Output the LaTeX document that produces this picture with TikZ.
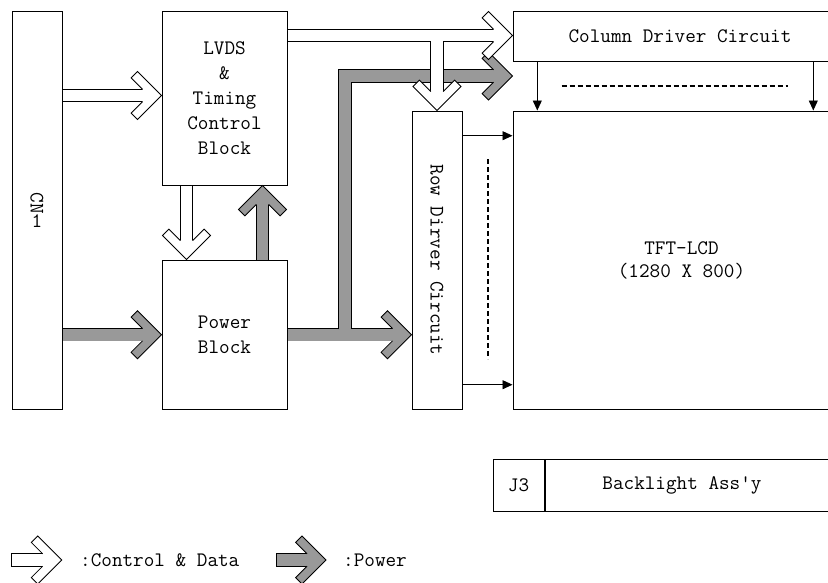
\documentclass[tikz,border=0pt]{standalone}
\usepackage{fontspec}
\usepackage{graphicx}
\usetikzlibrary{calc,arrows.meta}
\definecolor{pwrgray}{RGB}{153,153,153}
\tikzset{
 blk/.style = {rectangle, draw, line width=1pt, inner sep=0pt, align=center},
 datashaft/.style = {draw, line width=0.8pt, double=white, double distance=11.6pt},
 pwrshaft/.style = {draw, line width=0.8pt, double=pwrgray, double distance=11.6pt},
 dhead/.style = {draw, fill=white, line width=0.8pt},
 phead/.style = {draw, fill=pwrgray, line width=0.8pt},
 sig/.style = {-{Triangle[length=10pt,width=9pt]}, line width=0.9pt},
 dashline/.style = {line width=2pt, dash pattern=on 5pt off 3pt},
 chevron/.pic = {
   \path[pic actions] (-19,-6.2) -- (-30.4,-17.6) -- (-24,-24) -- (0,0)
     -- (-24,24) -- (-30.4,17.6) -- (-19,6.2);
 }
}

\begin{document}
\begin{tikzpicture}[x=1pt, y=-1pt, font=\fontsize{20.6}{25}\selectfont\ttfamily]
  \useasboundingbox (0,0) rectangle (828,582);

  % Blocks
  \node[blk, minimum width=50pt, minimum height=398pt] (cn1) at (37,210)
  {\rotatebox{-90}{CN}\\1};
  \node[blk, minimum width=125pt, minimum height=174pt] (lvds) at (224.5,98)
  {LVDS\\\&\\Timing\\Control\\Block};
  \node[blk, minimum width=125pt, minimum height=149pt] (pwr) at (224.5,334.5)
  {Power\\Block};
  \node[blk, minimum width=50pt, minimum height=298pt] (row) at (437,260)
  {\rotatebox{-90}{Row Dirver Circuit}};
  \node[blk, minimum width=334pt, minimum height=50pt] (col) at (680,36)
  {Column Driver Circuit};
  \node[blk, minimum width=337pt, minimum height=298pt] (lcd) at (681.5,260)
  {TFT-LCD\\[-2pt](1280 X 800)};

  % Backlight
  \node[blk, minimum width=51pt, minimum height=52pt] (j3) at (518.5,485) {J3};
  \node[blk, anchor=west, minimum width=306pt, minimum height=52pt] (bl) at (j3.east) {};
  \node (bltxt) at (682,485) {Backlight Ass'y};

  % Levels of the wide arrows
  \coordinate (cnlvl) at (0,95.5);
  \coordinate (dlvl) at (0,35.5);
  \coordinate (plvl) at (0,334.7);
  \coordinate (upx) at (262.5,0);
  \coordinate (dnx) at (186.5,0);
  \coordinate (brx) at (345,76);

  % Power
  \draw[pwrshaft] (cn1.east |- plvl) -- ($(pwr.west |- plvl)+(-18.5,0)$);
  \pic[phead] at (pwr.west |- plvl) {chevron};
  \draw[pwrshaft] (pwr.east |- plvl) -- ($(row.west |- plvl)+(-18.5,0)$);
  \pic[phead] at (row.west |- plvl) {chevron};
  \draw[pwrshaft] (pwr.north -| upx) -- ($(lvds.south -| upx)+(0,18.5)$);
  \pic[phead, rotate=90] at (lvds.south -| upx) {chevron};
  \draw[pwrshaft] ($(brx |- plvl)+(0,-5.7)$) |- ($(col.west |- brx)+(-18.5,0)$);
  \pic[phead] at (col.west |- brx) {chevron};

  % Control & Data
  \draw[datashaft] (cn1.east |- cnlvl) -- ($(lvds.west |- cnlvl)+(-18.5,0)$);
  \pic[dhead] at (lvds.west |- cnlvl) {chevron};
  \draw[datashaft] (lvds.south -| dnx) -- ($(pwr.north -| dnx)+(0,-18.5)$);
  \pic[dhead, rotate=-90] at (pwr.north -| dnx) {chevron};
  \draw[datashaft] (lvds.east |- dlvl) -- ($(col.west |- dlvl)+(-18.5,0)$);
  \pic[dhead] at (col.west |- dlvl) {chevron};
  \draw[datashaft] ($(row.north |- dlvl)+(0,5.9)$) -- ($(row.north)+(0,-18.5)$);
  \pic[dhead, rotate=-90] at (row.north) {chevron};

  % Row and column lines
  \coordinate (r1) at (0,135.7);
  \coordinate (r2) at (0,384.7);
  \coordinate (c1) at (537.3,0);
  \coordinate (c2) at (813.3,0);
  \draw[sig] (row.east |- r1) -- (lcd.west |- r1);
  \draw[sig] (row.east |- r2) -- (lcd.west |- r2);
  \draw[sig] (col.south -| c1) -- (lcd.north -| c1);
  \draw[sig] (col.south -| c2) -- (lcd.north -| c2);
  \draw[dashline] (561.7,85.7) -- (788.3,85.7);
  \draw[dashline] (487.7,159.3) -- (487.7,359.3);

  % Legend
  \coordinate (lgd) at (61.7,560);
  \coordinate (lgp) at (326,560);
  \draw[dhead] ($(lgd)+(-50,-6.2)$) rectangle ($(lgd)+(-17,6.2)$);
  \pic[dhead] at (lgd) {chevron};
  \node[anchor=west, inner sep=0pt] (lgdtxt) at (80,560) {:Control \& Data};
  \draw[phead] ($(lgp)+(-49.3,-6.2)$) rectangle ($(lgp)+(-17,6.2)$);
  \pic[phead] at (lgp) {chevron};
  \node[anchor=west, inner sep=0pt] (lgptxt) at (343,560) {:Power};
\end{tikzpicture}
\end{document}
